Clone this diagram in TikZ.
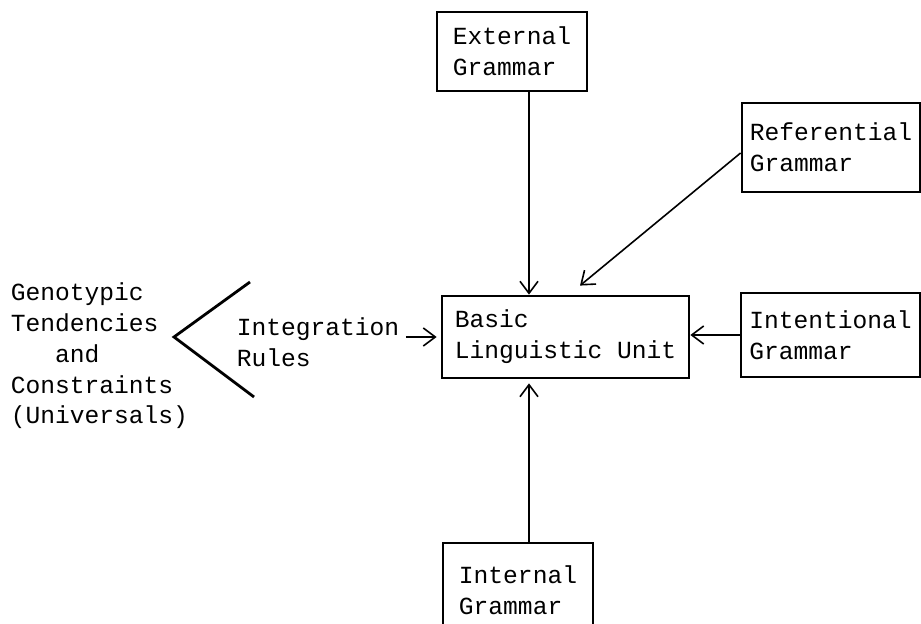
\documentclass[tikz,border=0pt]{standalone}
\usepackage{fontspec}
\setmainfont{Liberation Mono}
\usetikzlibrary{calc}
\usetikzlibrary{arrows.meta}

\begin{document}
\begin{tikzpicture}[x=0.5pt,y=-0.5pt,thick,font=\fontsize{12.3}{15.4}\selectfont] %% tikz
		\tikzstyle{gram}=[draw,line width=1.4pt,align=left,inner sep=0pt]
		\tikzstyle{feed}=[line width=0.8pt,-{Straight Barb[length=6pt,width=9pt]}]
		\useasboundingbox (0,0) rectangle (921,624);
		%% grammar boxes
		\node[gram,minimum width=75pt,minimum height=39.5pt] (ext) at (512,51.5) {External\\Grammar};
		\node[gram,minimum width=89pt,minimum height=44.5pt] (ref) at (831,147.5) {Referential\\Grammar};
		\node[gram,minimum width=123.5pt,minimum height=41pt] (blu) at (565.5,337) {Basic\\Linguistic Unit};
		\node[gram,minimum width=89.5pt,minimum height=42pt] (itn) at (830.5,335) {Intentional\\Grammar};
		\node[gram,minimum width=75pt,minimum height=47pt] (inr) at (518,590) {Internal\\Grammar};
		%% left side texts
		\node[anchor=west,align=left,inner sep=3pt] (geno) at (4,356)
			{Genotypic\\Tendencies\\\ \ \ and\\Constraints\\(Universals)};
		\node[anchor=west,align=left,inner sep=3pt] (rules) at (230,342) {Integration\\Rules};
		%% chevron
		\coordinate (top) at (250,282);
		\coordinate (apex) at (174,337);
		\coordinate (bot) at (254,397);
		\draw[line width=1.4pt] (top) -- (apex) -- (bot);
		%% arrows
		\coordinate (axis) at (529,0);
		\draw[feed] (ext.south -| axis) -- (blu.north -| axis);
		\draw[feed] (inr.north -| axis) -- ($(blu.south -| axis)+(0,4)$);
		\draw[feed] ($(ref.west)+(0,5.5)$) -- ($(blu.north)+(14.5,-9)$);
		\draw[feed] (itn.west |- 0,335) -- (blu.east |- 0,335);
		\draw[feed,shorten >=2pt] (rules.east |- blu.west) -- (blu.west);
	\end{tikzpicture}
\end{document}
